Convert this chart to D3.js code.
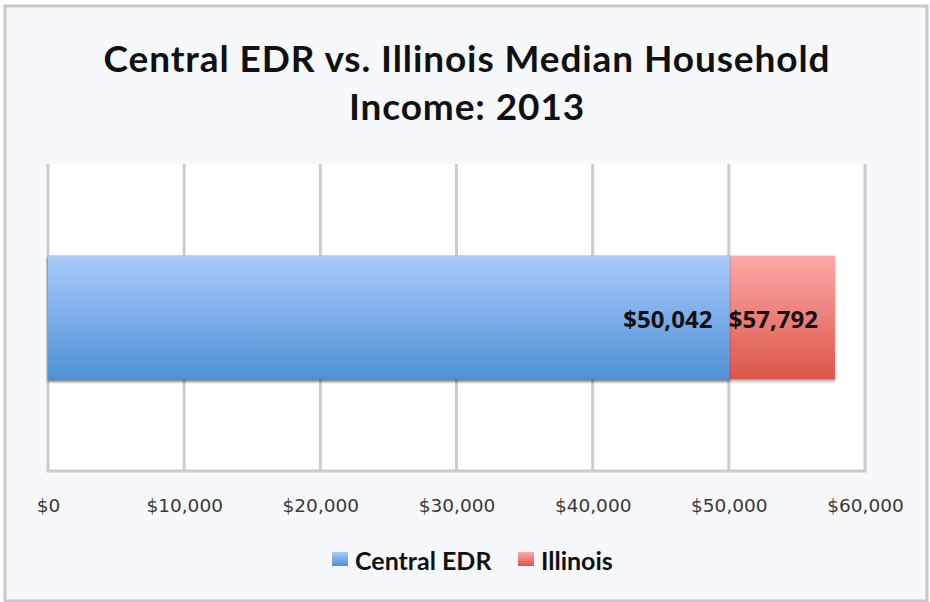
<!DOCTYPE html>
<html>
<head>
<meta charset="utf-8">
<script src="https://cdn.jsdelivr.net/npm/d3@7"></script>
<style>
  body { margin: 0; background: #ffffff; }
  svg { display: block; }
</style>
</head>
<body>
<div id="chart"></div>
<script>
const width = 930;
const height = 602;

// data
const seriesNames = ["Central EDR", "Illinois"];
const seriesValues = [50042, 57792];
const seriesColors = [["#a8cbfb", "#4f8fd6"], ["#fbaaa8", "#dc5548"]];
const tickValues = [0, 10000, 20000, 30000, 40000, 50000, 60000];
const titleLines = ["Central EDR vs. Illinois Median Household", "Income: 2013"];

const plot = { left: 48, right: 865, top: 164, bottom: 471 };

const svg = d3
  .select("#chart")
  .append("svg")
  .attr("width", width)
  .attr("height", height);

const defs = svg.append("defs");
seriesColors.forEach((c, i) => {
  const g = defs
    .append("linearGradient")
    .attr("id", "grad" + i)
    .attr("x1", 0).attr("y1", 0).attr("x2", 0).attr("y2", 1);
  g.append("stop").attr("offset", "0%").attr("stop-color", c[0]);
  g.append("stop").attr("offset", "100%").attr("stop-color", c[1]);
});
const shadow = defs.append("filter").attr("id", "shadow")
  .attr("x", "-5%").attr("y", "-10%").attr("width", "110%").attr("height", "130%");
shadow.append("feDropShadow")
  .attr("dx", 0).attr("dy", 2).attr("stdDeviation", 1.5)
  .attr("flood-color", "#000").attr("flood-opacity", 0.35);

// background frame
svg.append("rect")
  .attr("x", 5).attr("y", 6)
  .attr("width", width - 8).attr("height", height - 7)
  .attr("fill", "#f7f8fc")
  .attr("stroke", "#c8c8c8")
  .attr("stroke-width", 3);

// plot area
svg.append("rect")
  .attr("x", plot.left).attr("y", plot.top)
  .attr("width", plot.right - plot.left).attr("height", plot.bottom - plot.top)
  .attr("fill", "#ffffff");

const xScale = d3.scaleLinear().domain([0, 60000]).range([plot.left, plot.right]);
const yScale = d3.scaleBand().domain(["2013"]).range([plot.top, plot.bottom]).padding(0.425);

// gridlines
svg.append("g")
  .selectAll("line")
  .data(tickValues)
  .enter()
  .append("line")
  .attr("x1", (d) => xScale(d))
  .attr("x2", (d) => xScale(d))
  .attr("y1", plot.top)
  .attr("y2", plot.bottom)
  .attr("stroke", "#cccccc")
  .attr("stroke-width", 3);

svg.append("line")
  .attr("x1", plot.left - 1.5).attr("x2", plot.right + 1.5)
  .attr("y1", plot.bottom).attr("y2", plot.bottom)
  .attr("stroke", "#cccccc")
  .attr("stroke-width", 3);

// x axis labels
const xAxis = svg.append("g")
  .attr("transform", `translate(0,${plot.bottom})`)
  .call(
    d3.axisBottom(xScale)
      .tickValues(tickValues)
      .tickSize(0)
      .tickPadding(28)
      .tickFormat((d) => "$" + d3.format(",")(d))
  );
xAxis.select(".domain").remove();
xAxis.selectAll("text")
  .attr("font-family", "DejaVu Sans")
  .attr("font-size", "18.5px")
  .attr("fill", "#383838");

// bars: Illinois drawn behind, Central EDR on top
const order = [1, 0];
const bars = svg.append("g");
order.forEach((i) => {
  bars.append("rect")
    .attr("x", xScale(0))
    .attr("y", yScale("2013"))
    .attr("width", xScale(seriesValues[i]) - xScale(0))
    .attr("height", yScale.bandwidth())
    .attr("fill", `url(#grad${i})`)
    .attr("filter", "url(#shadow)");
});

// value labels
order.forEach((i) => {
  svg.append("text")
    .attr("x", xScale(seriesValues[i]) - 17)
    .attr("y", yScale("2013") + yScale.bandwidth() / 2 + 10)
    .attr("text-anchor", "end")
    .attr("font-family", "Open Sans, sans-serif")
    .attr("font-weight", "bold")
    .attr("font-size", "24px")
    .attr("fill", "#111")
    .text("$" + d3.format(",")(seriesValues[i]));
});

// title
svg.append("g")
  .selectAll("text")
  .data(titleLines)
  .enter()
  .append("text")
  .attr("x", 467)
  .attr("y", (d, i) => 72 + i * 48)
  .attr("text-anchor", "middle")
  .attr("font-family", "Lato, sans-serif")
  .attr("font-weight", "bold")
  .attr("font-size", "37px")
  .attr("letter-spacing", "0.9px")
  .attr("fill", "#111")
  .text((d) => d);

// legend
const legendX = [332, 518];
const legend = svg.append("g");
seriesNames.forEach((name, i) => {
  legend.append("rect")
    .attr("x", legendX[i]).attr("y", 552)
    .attr("width", 16).attr("height", 14)
    .attr("fill", `url(#grad${i})`);
  legend.append("text")
    .attr("x", legendX[i] + 23)
    .attr("y", 570)
    .attr("font-family", "Lato, sans-serif")
    .attr("font-weight", "bold")
    .attr("font-size", "25px")
    .attr("fill", "#111")
    .text(name);
});
</script>
</body>
</html>
